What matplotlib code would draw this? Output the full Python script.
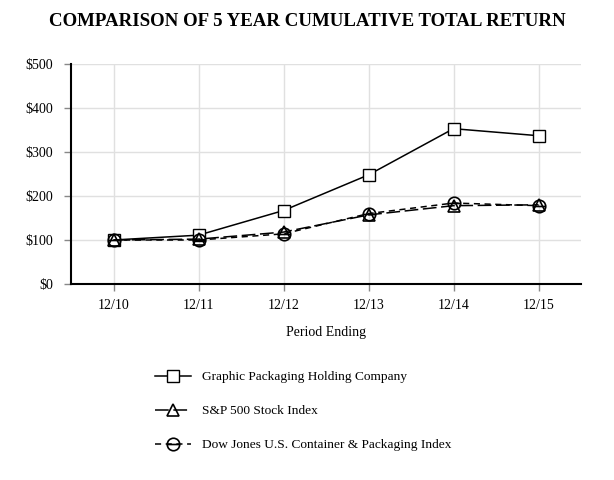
import matplotlib
matplotlib.use("Agg")
import matplotlib.pyplot as plt
from matplotlib.path import Path
import numpy as np

plt.rcParams['font.family'] = ['Liberation Serif', 'DejaVu Serif']

periods = ["12/10", "12/11", "12/12", "12/13", "12/14", "12/15"]
graphic = [100, 111, 167, 248, 353, 337]
sp500 = [100, 102, 118, 157, 178, 180]
dowjones = [100, 100, 114, 160, 184, 178]
y_ticks = [0, 100, 200, 300, 400, 500]

# circle with a bar through it for the Dow Jones marker
circ = Path.unit_circle()
bar = Path([[-1, 0], [1, 0]], [Path.MOVETO, Path.LINETO])
ominus = Path.make_compound_path(circ, bar)

fig = plt.figure(figsize=(6.14, 4.8), dpi=100)
ax = fig.add_axes([71/614, 1 - 284/480, 510/614, 220/480])

x = np.arange(len(periods))
l1, = ax.plot(x, graphic, color='black', lw=1.1, marker='s', ms=8.5,
              mfc='white', mec='black', mew=1.0, label='Graphic Packaging Holding Company', zorder=3)
l2, = ax.plot(x, sp500, color='black', lw=1.1, dashes=(9, 3), marker='^', ms=9,
              mfc='none', mec='black', mew=1.2, label='S&P 500 Stock Index', zorder=4)
l3, = ax.plot(x, dowjones, color='black', lw=1.1, dashes=(4, 3), marker=ominus, ms=9,
              mfc='none', mec='black', mew=1.2, label='Dow Jones U.S. Container & Packaging Index', zorder=4)

ax.set_xlim(-0.5, 5.5)
ax.set_ylim(0, 500)
ax.set_xticks(x)
ax.set_xticklabels(periods, fontsize=10)
ax.set_yticks(y_ticks)
ax.set_yticklabels(["$%d" % v for v in y_ticks], fontsize=10)
ax.grid(True, color='#e0e0e0', lw=1.0)
ax.set_axisbelow(True)
for s in ['top', 'right']:
    ax.spines[s].set_visible(False)
for s in ['left', 'bottom']:
    ax.spines[s].set_linewidth(1.5)
ax.tick_params(axis='both', colors='#888888', labelcolor='black', length=5, width=1)
ax.tick_params(axis='y', pad=8)
ax.tick_params(axis='x', pad=6)
ax.set_xlabel("Period Ending", fontsize=10, labelpad=10)

fig.text(0.5, 1 - 22/480, "COMPARISON OF 5 YEAR CUMULATIVE TOTAL RETURN",
         ha='center', va='center', fontsize=13.6, fontweight='bold')

fig.legend(handles=[l1, l2, l3], loc='upper left', bbox_to_anchor=(143/614, 1 - 359/480),
           frameon=False, fontsize=9.6, handlelength=2.7, labelspacing=1.62, handletextpad=0.85)

fig.savefig("out.png", dpi=100)
